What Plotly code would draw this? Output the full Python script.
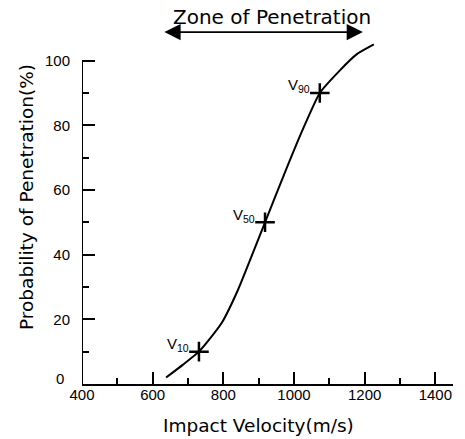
import plotly.graph_objects as go

# ---- data ----
velocity = [638, 686, 731, 762, 796, 841, 918, 969, 1020, 1073, 1130, 1178, 1226]
probability = [2, 6, 10, 14, 19, 29, 50, 64, 77.5, 90, 97, 102, 105]

point_labels = ["V<sub>10</sub>", "V<sub>50</sub>", "V<sub>90</sub>"]
point_velocity = [731, 918, 1073]
point_probability = [10, 50, 90]

x_ticks = [400, 600, 800, 1000, 1200, 1400]
x_minor = [500, 700, 900, 1100, 1300]
y_ticks = [0, 20, 40, 60, 80, 100]
y_tick_text = ["", "20", "40", "60", "80", "100"]
y_minor = [10, 30, 50, 70, 90]

zone_start, zone_end = 629, 1195

x_title = "Impact Velocity(m/s)"
y_title = "Probability of Penetration(%)"
zone_title = "Zone of Penetration"

FONT = "Arial"
TFONT = "DejaVu Sans"
fig = go.Figure()

fig.add_trace(go.Scatter(
    x=velocity, y=probability, mode="lines",
    line=dict(color="black", width=2, shape="spline", smoothing=0.5),
    hoverinfo="skip", showlegend=False,
))
fig.add_trace(go.Scatter(
    x=point_velocity, y=point_probability, mode="markers",
    marker=dict(symbol="cross-thin", size=14, line=dict(color="black", width=2.5)),
    showlegend=False, cliponaxis=False,
))

for lab, vx, vy in zip(point_labels, point_velocity, point_probability):
    fig.add_annotation(x=vx, y=vy, text=lab, showarrow=False,
                       xanchor="right", yanchor="middle", xshift=-8, yshift=7,
                       font=dict(family=FONT, size=15, color="black"))

# "0" tick label drawn slightly raised as in the reference
fig.add_annotation(x=0, xref="paper", y=y_ticks[0], yref="y", text="0", showarrow=False,
                   xanchor="right", yanchor="middle", xshift=-16, yshift=6,
                   font=dict(family=FONT, size=15, color="black"))

# y axis line (only up to 100)
fig.add_shape(type="line", x0=x_ticks[0], x1=x_ticks[0], y0=y_ticks[0], y1=y_ticks[-1],
              xref="x", yref="y", line=dict(color="black", width=2))

# zone of penetration arrow
fig.add_annotation(x=zone_end, y=1.017, ax=zone_start, ay=1.017, axref="x", ayref="y domain",
                   xref="x", yref="y domain", text="", showarrow=True,
                   arrowside="end+start", arrowhead=2, arrowsize=1.8, arrowwidth=1.8,
                   arrowcolor="black")
fig.add_annotation(x=(zone_start + zone_end) / 2 + 25, y=1.061, xref="x", yref="y domain",
                   text=zone_title, showarrow=False, yanchor="middle",
                   font=dict(family=TFONT, size=20, color="black"))

# axis titles
fig.add_annotation(x=0.4744, y=0, xref="paper", yref="paper", yshift=-41,
                   text=x_title, showarrow=False, xanchor="center", yanchor="middle",
                   font=dict(family=TFONT, size=18.5, color="black"))
fig.add_annotation(x=0, y=0.5405, xref="paper", yref="paper", xshift=-55,
                   text=y_title, showarrow=False, textangle=-90,
                   xanchor="center", yanchor="middle",
                   font=dict(family=TFONT, size=18.5, color="black"))

fig.update_layout(
    width=465, height=439,
    margin=dict(l=82, r=12, t=38, b=55),
    paper_bgcolor="white", plot_bgcolor="white",
    font=dict(family=FONT, color="black"),
    xaxis=dict(
        range=[400, 1450], tickvals=x_ticks, ticks="inside", ticklen=12, tickwidth=2,
        tickcolor="black", showline=True, linecolor="black", linewidth=2,
        showgrid=False, zeroline=False, tickfont=dict(size=15, family=FONT),
        automargin=False, ticklabelstandoff=-4,
        minor=dict(tickvals=x_minor, ticks="inside", ticklen=6, tickwidth=1.5, tickcolor="black"),
    ),
    yaxis=dict(
        range=[0, 107], tickvals=y_ticks, ticktext=y_tick_text, ticks="inside", ticklen=13,
        tickwidth=2, tickcolor="black", showline=False, showgrid=False, zeroline=False,
        tickfont=dict(size=15, family=FONT), automargin=False, ticklabelstandoff=11,
        minor=dict(tickvals=y_minor, ticks="inside", ticklen=7, tickwidth=1.5, tickcolor="black"),
    ),
)

# remove the default 8px page margin so the figure fills the 465x439 window
fig.write_html("out.html", config={"displayModeBar": False},
               post_script="document.body.style.margin='0';")
